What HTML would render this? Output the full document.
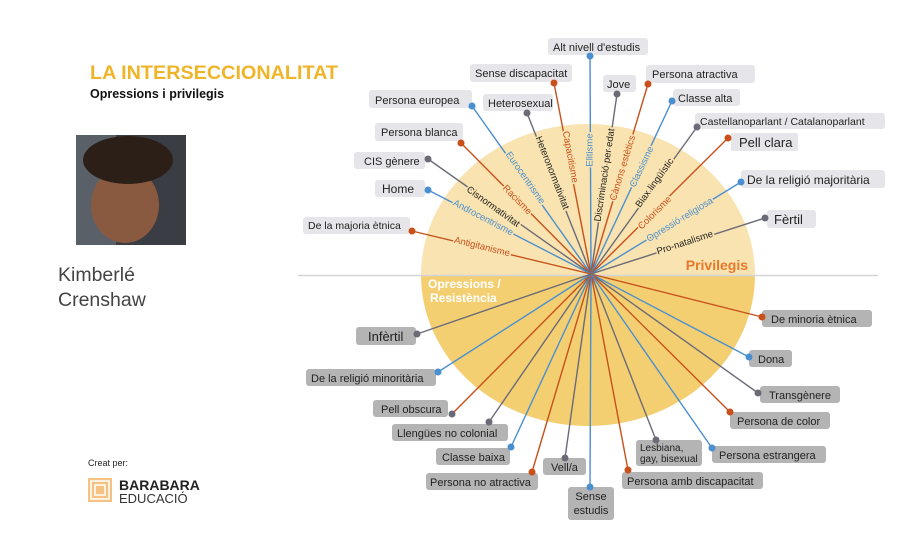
<!DOCTYPE html>
<html><head><meta charset="utf-8">
<style>
html,body{margin:0;padding:0;background:#fff;}
svg{display:block;font-family:"Liberation Sans","DejaVu Sans",sans-serif;}
.bt{font-size:11px;fill:#222;}
.bb{font-size:13px;fill:#222;}
.lab{font-size:9.5px;paint-order:stroke;stroke:#f9e3b0;stroke-width:3px;}
</style></head><body>
<svg width="922" height="543" viewBox="0 0 922 543" xmlns="http://www.w3.org/2000/svg">
<rect width="922" height="543" fill="#fff"/>
<!-- circle halves -->
<path d="M421,275 A167,151 0 0 1 755,275 Z" fill="#f9e3b0"/>
<path d="M421,275 A167,151 0 0 0 755,275 Z" fill="#f3cf72"/>
<line x1="298" y1="275.5" x2="878" y2="275.5" stroke="#d4d4d8" stroke-width="1.5"/>

<!-- lines -->
<g stroke-width="1.4" fill="none">
<line x1="591" y1="274" x2="590" y2="56" stroke="#4a8fcf"/>
<line x1="591" y1="274" x2="554" y2="83" stroke="#c8501a"/>
<line x1="591" y1="274" x2="472" y2="106" stroke="#4a8fcf"/>
<line x1="591" y1="274" x2="527" y2="113" stroke="#6b6b78"/>
<line x1="591" y1="274" x2="461" y2="143" stroke="#c8501a"/>
<line x1="591" y1="274" x2="428" y2="159" stroke="#6b6b78"/>
<line x1="591" y1="274" x2="428" y2="190" stroke="#4a8fcf"/>
<line x1="591" y1="274" x2="412" y2="231" stroke="#c8501a"/>
<line x1="591" y1="274" x2="617" y2="94" stroke="#6b6b78"/>
<line x1="591" y1="274" x2="648" y2="84" stroke="#c8501a"/>
<line x1="591" y1="274" x2="672" y2="101" stroke="#4a8fcf"/>
<line x1="591" y1="274" x2="697" y2="127" stroke="#6b6b78"/>
<line x1="591" y1="274" x2="728" y2="138" stroke="#c8501a"/>
<line x1="591" y1="274" x2="741" y2="182" stroke="#4a8fcf"/>
<line x1="591" y1="274" x2="765" y2="218" stroke="#6b6b78"/>

<line x1="591" y1="274" x2="762" y2="317" stroke="#c8501a"/>
<line x1="591" y1="274" x2="749" y2="357" stroke="#4a8fcf"/>
<line x1="591" y1="274" x2="758" y2="393" stroke="#6b6b78"/>
<line x1="591" y1="274" x2="730" y2="412" stroke="#c8501a"/>
<line x1="591" y1="274" x2="656" y2="440" stroke="#6b6b78"/>
<line x1="591" y1="274" x2="712" y2="448" stroke="#4a8fcf"/>
<line x1="591" y1="274" x2="628" y2="470" stroke="#c8501a"/>
<line x1="591" y1="274" x2="590" y2="487" stroke="#4a8fcf"/>
<line x1="591" y1="274" x2="565" y2="458" stroke="#6b6b78"/>
<line x1="591" y1="274" x2="532" y2="472" stroke="#c8501a"/>
<line x1="591" y1="274" x2="511" y2="447" stroke="#4a8fcf"/>
<line x1="591" y1="274" x2="489" y2="422" stroke="#6b6b78"/>
<line x1="591" y1="274" x2="452" y2="414" stroke="#c8501a"/>
<line x1="591" y1="274" x2="438" y2="372" stroke="#4a8fcf"/>
<line x1="591" y1="274" x2="417" y2="334" stroke="#6b6b78"/>
</g>

<!-- along-line labels -->
<g class="lab" text-anchor="middle" dominant-baseline="middle">
<text x="525" y="178" fill="#4a8fcf" transform="rotate(55 525 178)">Eurocentrisme</text>
<text x="517" y="200" fill="#c8501a" transform="rotate(45.7 517 200)">Racisme</text>
<text x="493" y="207" fill="#222" transform="rotate(35.6 493 207)">Cisnormativitat</text>
<text x="483" y="218" fill="#4a8fcf" transform="rotate(27.7 483 218)">Androcentrisme</text>
<text x="482" y="247" fill="#c8501a" transform="rotate(13.9 482 247)">Antigitanisme</text>
<text x="552" y="173" fill="#222" transform="rotate(68.7 552 173)">Heteronormativitat</text>
<text x="570" y="157" fill="#c8501a" transform="rotate(79.4 570 157)">Capacitisme</text>
<text x="590" y="150" fill="#4a8fcf" transform="rotate(-90 590 150)">Elitisme</text>
<text x="605" y="175" fill="#222" transform="rotate(-81.5 605 175)">Discriminació per edat</text>
<text x="623" y="168" fill="#c8501a" transform="rotate(-73.1 623 168)">Cànons estètics</text>
<text x="642" y="167" fill="#4a8fcf" transform="rotate(-64.8 642 167)">Classisme</text>
<text x="655" y="183" fill="#222" transform="rotate(-54.1 655 183)">Biax lingüístic</text>
<text x="655" y="213" fill="#c8501a" transform="rotate(-44.8 655 213)">Colorisme</text>
<text x="680" y="220" fill="#4a8fcf" transform="rotate(-31.6 680 220)">Opressió religiosa</text>
<text x="685" y="243" fill="#222" transform="rotate(-18 685 243)">Pro-natalisme</text>
</g>

<text x="748" y="270" text-anchor="end" font-size="14" font-weight="bold" fill="#e8782a">Privilegis</text>
<text x="428" y="288" font-size="12" font-weight="bold" fill="#fff">Opressions /</text>
<text x="430" y="302" font-size="12" font-weight="bold" fill="#fff">Resistència</text>

<!-- top boxes -->
<g fill="#e6e6ea">
<rect x="548" y="38" width="100" height="17" rx="3"/>
<rect x="470" y="64" width="102" height="18" rx="3"/>
<rect x="369" y="90" width="103" height="18" rx="3"/>
<rect x="483" y="94" width="70" height="17" rx="3"/>
<rect x="375" y="123" width="88" height="18" rx="3"/>
<rect x="354" y="152" width="71" height="17" rx="3"/>
<rect x="375" y="180" width="50" height="17" rx="3"/>
<rect x="303" y="217" width="107" height="17" rx="3"/>
<rect x="603" y="75" width="33" height="17" rx="3"/>
<rect x="646" y="65" width="109" height="18" rx="3"/>
<rect x="673" y="89" width="67" height="17" rx="3"/>
<rect x="695" y="113" width="190" height="16" rx="3"/>
<rect x="731" y="133" width="67" height="18" rx="1"/>
<rect x="741" y="170" width="144" height="18" rx="3"/>
<rect x="767" y="210" width="49" height="18" rx="3"/>
</g>
<g class="bt">
<text x="553" y="51">Alt nivell d'estudis</text>
<text x="475" y="77">Sense discapacitat</text>
<text x="375" y="104">Persona europea</text>
<text x="488" y="107">Heterosexual</text>
<text x="381" y="136">Persona blanca</text>
<text x="364" y="165">CIS gènere</text>
<text x="382" y="193" font-size="12">Home</text>
<text x="308" y="229" font-size="10.5">De la majoria ètnica</text>
<text x="607" y="88">Jove</text>
<text x="652" y="78">Persona atractiva</text>
<text x="678" y="102">Classe alta</text>
<text x="700" y="125" font-size="10.5">Castellanoparlant / Catalanoparlant</text>
<text x="739" y="147" font-size="13">Pell clara</text>
<text x="747" y="184" font-size="12">De la religió majoritària</text>
<text x="774" y="224" font-size="13">Fèrtil</text>
</g>

<!-- bottom boxes -->
<g fill="#b4b4b4">
<rect x="762" y="310" width="110" height="17" rx="3"/>
<rect x="749" y="350" width="43" height="17" rx="3"/>
<rect x="760" y="386" width="80" height="17" rx="3"/>
<rect x="730" y="412" width="100" height="17" rx="3"/>
<rect x="636" y="440" width="66" height="26" rx="3"/>
<rect x="712" y="446" width="114" height="17" rx="3"/>
<rect x="622" y="472" width="141" height="17" rx="3"/>
<rect x="568" y="487" width="46" height="33" rx="3"/>
<rect x="543" y="458" width="43" height="17" rx="3"/>
<rect x="426" y="473" width="112" height="17" rx="3"/>
<rect x="436" y="448" width="74" height="17" rx="3"/>
<rect x="392" y="424" width="116" height="17" rx="3"/>
<rect x="373" y="400" width="75" height="17" rx="3"/>
<rect x="306" y="369" width="130" height="17" rx="3"/>
<rect x="356" y="327" width="60" height="18" rx="3"/>
</g>
<g class="bt">
<text x="771" y="323">De minoria ètnica</text>
<text x="758" y="363">Dona</text>
<text x="769" y="399">Transgènere</text>
<text x="737" y="425">Persona de color</text>
<text x="640" y="451" font-size="10">Lesbiana,</text>
<text x="640" y="462" font-size="10">gay, bisexual</text>
<text x="719" y="459">Persona estrangera</text>
<text x="627" y="485">Persona amb discapacitat</text>
<text x="591" y="500" text-anchor="middle">Sense</text>
<text x="591" y="514" text-anchor="middle">estudis</text>
<text x="551" y="471">Vell/a</text>
<text x="430" y="486">Persona no atractiva</text>
<text x="442" y="461">Classe baixa</text>
<text x="397" y="437">Llengües no colonial</text>
<text x="381" y="413">Pell obscura</text>
<text x="311" y="382">De la religió minoritària</text>
<text x="368" y="341" font-size="13">Infèrtil</text>
</g>

<!-- dots -->
<g>
<circle cx="590" cy="56" r="3.5" fill="#4a8fcf"/>
<circle cx="554" cy="83" r="3.5" fill="#c8501a"/>
<circle cx="472" cy="106" r="3.5" fill="#4a8fcf"/>
<circle cx="527" cy="113" r="3.5" fill="#6b6b78"/>
<circle cx="461" cy="143" r="3.5" fill="#c8501a"/>
<circle cx="428" cy="159" r="3.5" fill="#6b6b78"/>
<circle cx="428" cy="190" r="3.5" fill="#4a8fcf"/>
<circle cx="412" cy="231" r="3.5" fill="#c8501a"/>
<circle cx="617" cy="94" r="3.5" fill="#6b6b78"/>
<circle cx="648" cy="84" r="3.5" fill="#c8501a"/>
<circle cx="672" cy="101" r="3.5" fill="#4a8fcf"/>
<circle cx="697" cy="127" r="3.5" fill="#6b6b78"/>
<circle cx="728" cy="138" r="3.5" fill="#c8501a"/>
<circle cx="741" cy="182" r="3.5" fill="#4a8fcf"/>
<circle cx="765" cy="218" r="3.5" fill="#6b6b78"/>
<circle cx="762" cy="317" r="3.5" fill="#c8501a"/>
<circle cx="749" cy="357" r="3.5" fill="#4a8fcf"/>
<circle cx="758" cy="393" r="3.5" fill="#6b6b78"/>
<circle cx="730" cy="412" r="3.5" fill="#c8501a"/>
<circle cx="656" cy="440" r="3.5" fill="#6b6b78"/>
<circle cx="712" cy="448" r="3.5" fill="#4a8fcf"/>
<circle cx="628" cy="470" r="3.5" fill="#c8501a"/>
<circle cx="590" cy="487" r="3.5" fill="#4a8fcf"/>
<circle cx="565" cy="458" r="3.5" fill="#6b6b78"/>
<circle cx="532" cy="472" r="3.5" fill="#c8501a"/>
<circle cx="511" cy="447" r="3.5" fill="#4a8fcf"/>
<circle cx="489" cy="422" r="3.5" fill="#6b6b78"/>
<circle cx="452" cy="414" r="3.5" fill="#6b6b78"/>
<circle cx="438" cy="372" r="3.5" fill="#4a8fcf"/>
<circle cx="417" cy="334" r="3.5" fill="#6b6b78"/>
</g>

<!-- left side -->
<text x="90" y="79" font-size="19" font-weight="bold" fill="#f0b429" textLength="248" lengthAdjust="spacingAndGlyphs">LA INTERSECCIONALITAT</text>
<text x="90" y="98" font-size="12.5" font-weight="bold" fill="#111">Opressions i privilegis</text>
<rect x="76" y="135" width="110" height="110" fill="#3a3d44"/>
<rect x="76" y="135" width="40" height="110" fill="#596068"/>
<ellipse cx="125" cy="205" rx="34" ry="38" fill="#8a5a40"/>
<ellipse cx="128" cy="160" rx="45" ry="24" fill="#2b1f18"/>
<text x="58" y="281" font-size="19.5" fill="#444">Kimberlé</text>
<text x="58" y="306" font-size="19.5" fill="#444">Crenshaw</text>
<text x="88" y="466" font-size="9" fill="#222">Creat per:</text>
<rect x="88" y="478" width="24" height="24" fill="#f5c283"/>
<rect x="91" y="481" width="18" height="18" fill="none" stroke="#fff" stroke-width="1.5"/>
<rect x="95" y="485" width="10" height="10" fill="none" stroke="#fff" stroke-width="1.5"/>
<text x="119" y="490" font-size="14" font-weight="bold" fill="#222">BARABARA</text>
<text x="119" y="503" font-size="13" fill="#333">EDUCACIÓ</text>
</svg>
</body></html>
